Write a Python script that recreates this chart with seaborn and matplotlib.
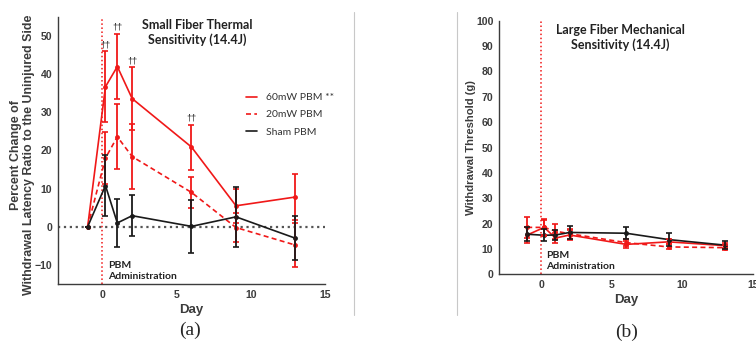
import matplotlib
matplotlib.use('Agg')
import matplotlib.pyplot as plt
import pandas as pd
import seaborn as sns
from matplotlib.lines import Line2D

# Data
days = [-1, 0.2, 1, 2, 6, 9, 13]
groups = ['60mW PBM **', '20mW PBM', 'Sham PBM']

thermal_60 = [0, 36.7, 42.0, 33.6, 20.9, 5.5, 7.8]
thermal_60_err = [0, 9.3, 8.5, 8.2, 5.9, 4.5, 6.1]
thermal_20 = [0, 18.0, 23.6, 18.4, 9.0, -0.2, -4.8]
thermal_20_err = [0, 6.8, 8.5, 8.6, 4.0, 3.8, 5.7]
thermal_sham = [0, 10.8, 1.0, 2.9, 0.1, 2.6, -3.0]
thermal_sham_err = [0, 8.1, 6.3, 5.4, 6.9, 7.9, 5.8]

mech_60 = [15.5, 18.5, 14.3, 15.5, 11.8, 12.8, 11.3]
mech_60_err = [3.0, 3.5, 2.0, 2.0, 1.5, 1.0, 1.0]
mech_20 = [18.5, 18.5, 17.0, 16.0, 12.5, 10.8, 10.5]
mech_20_err = [4.0, 3.0, 3.0, 2.0, 1.5, 1.0, 1.0]
mech_sham = [15.8, 15.4, 15.5, 16.5, 16.2, 13.7, 11.5]
mech_sham_err = [2.8, 2.3, 2.0, 2.5, 2.3, 2.5, 1.5]

# days marked with a dagger in panel (a)
dagger_days = [0.2, 1, 2, 6]

RED = '#f01818'
BLACK = '#1a1a1a'
colors = {groups[0]: RED, groups[1]: RED, groups[2]: BLACK}
dashes = {groups[0]: '', groups[1]: (3, 2), groups[2]: ''}
GREY = '#3c3c3c'

sns.set_style('white')
plt.rcParams['font.family'] = ['Liberation Sans', 'DejaVu Sans']


def make_df(vals, errs):
    rows = []
    for g, v, e in zip(groups, vals, errs):
        for d, y, s in zip(days, v, e):
            rows.append({'day': d, 'value': y, 'err': s, 'group': g})
    return pd.DataFrame(rows)


df_a = make_df([thermal_60, thermal_20, thermal_sham],
               [thermal_60_err, thermal_20_err, thermal_sham_err])
df_b = make_df([mech_60, mech_20, mech_sham],
               [mech_60_err, mech_20_err, mech_sham_err])


def draw_panel(ax, df, ylim, yticks, ylabel, ylab_size, ylab_xy, title, title_xy):
    ax.axvline(0, color=RED, ls=':', lw=1.1, zorder=1)
    sns.lineplot(data=df, x='day', y='value', hue='group', style='group',
                 palette=colors, dashes=dashes, markers=['o', 'o', 'o'],
                 markersize=3.5, markeredgewidth=0, lw=1.2, legend=False,
                 ax=ax, zorder=3)
    for g in groups:
        sub = df[df['group'] == g]
        ax.errorbar(sub['day'], sub['value'], yerr=sub['err'], fmt='none',
                    ecolor=colors[g], elinewidth=1.3, capsize=2.5,
                    capthick=1.2, zorder=3)
    ax.set_xlim(-3, 15)
    ax.set_ylim(*ylim)
    ax.set_xticks([0, 5, 10, 15])
    ax.set_yticks(yticks)
    ax.tick_params(direction='in', length=3, width=0.8, colors=GREY,
                   labelsize=7.6, pad=4)
    for lab in ax.get_xticklabels() + ax.get_yticklabels():
        lab.set_fontweight('bold')
    for s in ['top', 'right']:
        ax.spines[s].set_visible(False)
    for s in ['left', 'bottom']:
        ax.spines[s].set_color(GREY)
        ax.spines[s].set_linewidth(1.0)
    ax.set_xlabel('Day', fontsize=9.5, fontweight='bold', color=GREY, labelpad=3)
    ax.set_ylabel(ylabel, fontsize=ylab_size, fontweight='bold', color=GREY,
                  linespacing=1.1)
    ax.yaxis.set_label_coords(*ylab_xy)
    ax.text(title_xy[0], title_xy[1], title, ha='center', va='center',
            fontsize=9, fontweight='bold', family='Lato', color='#222222',
            linespacing=1.25)
    ax.text(0.35, ylim[0] + (ylim[1] - ylim[0]) * 0.012, 'PBM\nAdministration',
            ha='left', va='bottom', fontsize=7.5, fontweight='bold',
            family='Lato', color='#222222', linespacing=1.3)


fig = plt.figure(figsize=(7.56, 3.47), dpi=100)
ax_a = fig.add_axes([0.0767, 0.1816, 0.3532, 0.7695])
ax_b = fig.add_axes([0.660, 0.2095, 0.3364, 0.7308])

ax_a.axhline(0, color='#555555', ls=':', lw=1.6, zorder=1)
draw_panel(ax_a, df_a, (-15, 55), range(-10, 51, 10),
           'Percent Change of\nWithdrawal Latency Ratio to the Uninjured Side',
           8.9, (-0.085, 0.483),
           'Small Fiber Thermal\nSensitivity (14.4J)', (6.4, 51.0))
draw_panel(ax_b, df_b, (0, 100), range(0, 101, 10),
           'Withdrawal Threshold (g)', 8.1, (-0.09, 0.5),
           'Large Fiber Mechanical\nSensitivity (14.4J)', (5.6, 93.3))

# daggers above the 60mW error bars
for d in dagger_days:
    i = days.index(d)
    ax_a.text(d, thermal_60[i] + thermal_60_err[i] + 0.6, '\u2020\u2020',
              ha='center', va='bottom', fontsize=6.5, color='#222222')

# legend
handles = [Line2D([], [], color=colors[g], lw=1.2,
                  dashes=dashes[g] if dashes[g] else (None, None))
           for g in groups]
leg = ax_a.legend(handles, groups, loc='upper left', bbox_to_anchor=(0.67, 0.75),
                  frameon=False, handlelength=1.0, handletextpad=0.9,
                  labelspacing=0.75, prop={'family': 'Lato', 'size': 7.5})
for t in leg.get_texts():
    t.set_color('#333333')

# panel separators and captions
for xp in [354, 457]:
    fig.add_artist(Line2D([xp / 756] * 2, [1 - 12 / 347, 1 - 315 / 347],
                          color='#c8c8c8', lw=0.8))
fig.text(190 / 756, 1 - 330 / 347, '(a)', ha='center', va='center',
         fontsize=14, family='Liberation Serif')
fig.text(627 / 756, 1 - 332 / 347, '(b)', ha='center', va='center',
         fontsize=14, family='Liberation Serif')

fig.savefig('out.png', dpi=100)
